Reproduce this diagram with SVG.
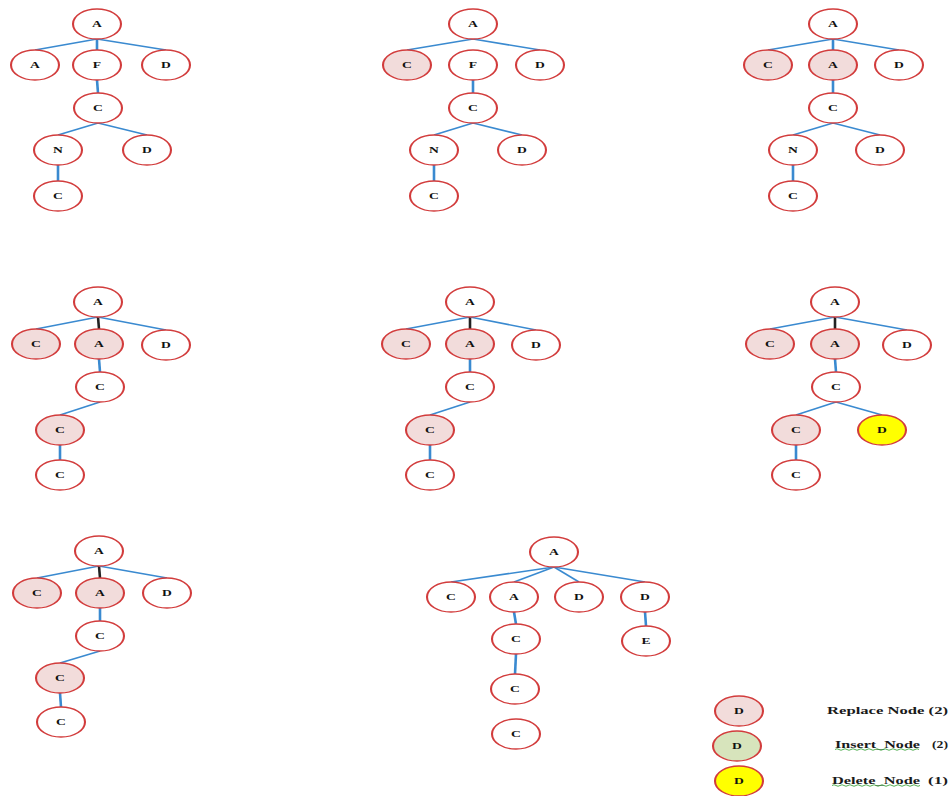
<svg xmlns="http://www.w3.org/2000/svg" width="950" height="796" viewBox="0 0 950 796">
<style>
.nd circle{fill:#fff;stroke:#d23c3c;stroke-width:1.3}
.r circle{fill:#f2dcdb}
.g circle{fill:#d7e4bc}
.y circle{fill:#ffff00}
.nd text{font-family:"Liberation Serif",serif;font-weight:bold;font-size:8.5px;text-anchor:middle;fill:#111}
.e line{stroke:#3a8ad0;stroke-width:1.6}
.e line.v{stroke-width:2.6}
.e line.k{stroke:#222;stroke-width:2.6}
.lg{font-family:"Liberation Serif",serif;font-weight:bold;font-size:10px;fill:#1a1a1a}
.sq{fill:none;stroke:#2a9a2a;stroke-width:0.8}
</style>
<rect width="950" height="796" fill="#fff"/>
<g id="connectors" class="e">
<!-- panel 1 -->
<line x1="97" y1="39" x2="35" y2="50"/>
<line class="v" x1="97" y1="39" x2="97" y2="50"/>
<line x1="97" y1="39" x2="166" y2="50"/>
<line class="v" x1="97" y1="80" x2="98" y2="93"/>
<line x1="98" y1="123" x2="58" y2="135"/>
<line x1="98" y1="123" x2="147" y2="135"/>
<line class="v" x1="58" y1="165" x2="58" y2="181"/>
<!-- panel 2 -->
<line x1="473" y1="39" x2="407" y2="50"/>
<line x1="473" y1="39" x2="540" y2="50"/>
<line class="v" x1="473" y1="80" x2="473" y2="93"/>
<line x1="473" y1="123" x2="434" y2="135"/>
<line x1="473" y1="123" x2="522" y2="135"/>
<line class="v" x1="434" y1="165" x2="434" y2="181"/>
<!-- panel 3 -->
<line x1="833" y1="39" x2="768" y2="50"/>
<line class="v" x1="833" y1="39" x2="833" y2="50"/>
<line x1="833" y1="39" x2="899" y2="50"/>
<line class="v" x1="833" y1="80" x2="833" y2="93"/>
<line x1="833" y1="123" x2="793" y2="135"/>
<line x1="833" y1="123" x2="880" y2="135"/>
<line class="v" x1="793" y1="165" x2="793" y2="181"/>
<!-- panel 4 -->
<line x1="98" y1="317" x2="36" y2="329"/>
<line class="k" x1="98" y1="317" x2="99" y2="329"/>
<line x1="98" y1="317" x2="166" y2="330"/>
<line class="v" x1="99" y1="359" x2="100" y2="372"/>
<line x1="100" y1="402" x2="60" y2="415"/>
<line class="v" x1="60" y1="445" x2="60" y2="460"/>
<!-- panel 5 -->
<line x1="470" y1="317" x2="406" y2="329"/>
<line class="k" x1="470" y1="317" x2="470" y2="329"/>
<line x1="470" y1="317" x2="536" y2="330"/>
<line class="v" x1="470" y1="359" x2="470" y2="372"/>
<line x1="470" y1="402" x2="430" y2="415"/>
<line class="v" x1="430" y1="445" x2="430" y2="460"/>
<!-- panel 6 -->
<line x1="835" y1="317" x2="770" y2="329"/>
<line class="k" x1="835" y1="317" x2="835" y2="329"/>
<line x1="835" y1="317" x2="907" y2="330"/>
<line class="v" x1="835" y1="359" x2="836" y2="372"/>
<line x1="836" y1="402" x2="796" y2="415"/>
<line x1="836" y1="402" x2="882" y2="415"/>
<line class="v" x1="796" y1="445" x2="796" y2="460"/>
<!-- panel 7 -->
<line x1="99" y1="566" x2="37" y2="578"/>
<line class="k" x1="99" y1="566" x2="100" y2="578"/>
<line x1="99" y1="566" x2="167" y2="578"/>
<line class="v" x1="100" y1="608" x2="100" y2="621"/>
<line x1="100" y1="651" x2="60" y2="663"/>
<line class="v" x1="60" y1="693" x2="61" y2="707"/>
<!-- panel 8 -->
<line x1="554" y1="567" x2="451" y2="582"/>
<line x1="554" y1="567" x2="514" y2="582"/>
<line x1="554" y1="567" x2="579" y2="582"/>
<line x1="554" y1="567" x2="645" y2="582"/>
<line class="v" x1="514" y1="612" x2="516" y2="624"/>
<line class="v" x1="516" y1="654" x2="515" y2="674"/>
<line class="v" x1="645" y1="612" x2="646" y2="626"/>
</g>

<!-- panel 1 -->
<g id="p1-a" class="nd" transform="translate(97,24) scale(1.6,1)"><circle r="15"/><text y="3">A</text></g>
<g id="p1-a2" class="nd" transform="translate(35,65) scale(1.6,1)"><circle r="15"/><text y="3">A</text></g>
<g id="p1-f" class="nd" transform="translate(97,65) scale(1.6,1)"><circle r="15"/><text y="3">F</text></g>
<g id="p1-d" class="nd" transform="translate(166,65) scale(1.6,1)"><circle r="15"/><text y="3">D</text></g>
<g id="p1-c" class="nd" transform="translate(98,108) scale(1.6,1)"><circle r="15"/><text y="3">C</text></g>
<g id="p1-n" class="nd" transform="translate(58,150) scale(1.6,1)"><circle r="15"/><text y="3">N</text></g>
<g id="p1-d2" class="nd" transform="translate(147,150) scale(1.6,1)"><circle r="15"/><text y="3">D</text></g>
<g id="p1-c2" class="nd" transform="translate(58,196) scale(1.6,1)"><circle r="15"/><text y="3">C</text></g>

<!-- panel 2 -->
<g id="p2-a" class="nd" transform="translate(473,24) scale(1.6,1)"><circle r="15"/><text y="3">A</text></g>
<g id="p2-c" class="nd r" transform="translate(407,65) scale(1.6,1)"><circle r="15"/><text y="3">C</text></g>
<g id="p2-f" class="nd" transform="translate(473,65) scale(1.6,1)"><circle r="15"/><text y="3">F</text></g>
<g id="p2-d" class="nd" transform="translate(540,65) scale(1.6,1)"><circle r="15"/><text y="3">D</text></g>
<g id="p2-c2" class="nd" transform="translate(473,108) scale(1.6,1)"><circle r="15"/><text y="3">C</text></g>
<g id="p2-n" class="nd" transform="translate(434,150) scale(1.6,1)"><circle r="15"/><text y="3">N</text></g>
<g id="p2-d2" class="nd" transform="translate(522,150) scale(1.6,1)"><circle r="15"/><text y="3">D</text></g>
<g id="p2-c3" class="nd" transform="translate(434,196) scale(1.6,1)"><circle r="15"/><text y="3">C</text></g>

<!-- panel 3 -->
<g id="p3-a" class="nd" transform="translate(833,24) scale(1.6,1)"><circle r="15"/><text y="3">A</text></g>
<g id="p3-c" class="nd r" transform="translate(768,65) scale(1.6,1)"><circle r="15"/><text y="3">C</text></g>
<g id="p3-a2" class="nd r" transform="translate(833,65) scale(1.6,1)"><circle r="15"/><text y="3">A</text></g>
<g id="p3-d" class="nd" transform="translate(899,65) scale(1.6,1)"><circle r="15"/><text y="3">D</text></g>
<g id="p3-c2" class="nd" transform="translate(833,108) scale(1.6,1)"><circle r="15"/><text y="3">C</text></g>
<g id="p3-n" class="nd" transform="translate(793,150) scale(1.6,1)"><circle r="15"/><text y="3">N</text></g>
<g id="p3-d2" class="nd" transform="translate(880,150) scale(1.6,1)"><circle r="15"/><text y="3">D</text></g>
<g id="p3-c3" class="nd" transform="translate(793,196) scale(1.6,1)"><circle r="15"/><text y="3">C</text></g>

<!-- panel 4 -->
<g id="p4-a" class="nd" transform="translate(98,302) scale(1.6,1)"><circle r="15"/><text y="3">A</text></g>
<g id="p4-c" class="nd r" transform="translate(36,344) scale(1.6,1)"><circle r="15"/><text y="3">C</text></g>
<g id="p4-a2" class="nd r" transform="translate(99,344) scale(1.6,1)"><circle r="15"/><text y="3">A</text></g>
<g id="p4-d" class="nd" transform="translate(166,345) scale(1.6,1)"><circle r="15"/><text y="3">D</text></g>
<g id="p4-c2" class="nd" transform="translate(100,387) scale(1.6,1)"><circle r="15"/><text y="3">C</text></g>
<g id="p4-c3" class="nd r" transform="translate(60,430) scale(1.6,1)"><circle r="15"/><text y="3">C</text></g>
<g id="p4-c4" class="nd" transform="translate(60,475) scale(1.6,1)"><circle r="15"/><text y="3">C</text></g>

<!-- panel 5 -->
<g id="p5-a" class="nd" transform="translate(470,302) scale(1.6,1)"><circle r="15"/><text y="3">A</text></g>
<g id="p5-c" class="nd r" transform="translate(406,344) scale(1.6,1)"><circle r="15"/><text y="3">C</text></g>
<g id="p5-a2" class="nd r" transform="translate(470,344) scale(1.6,1)"><circle r="15"/><text y="3">A</text></g>
<g id="p5-d" class="nd" transform="translate(536,345) scale(1.6,1)"><circle r="15"/><text y="3">D</text></g>
<g id="p5-c2" class="nd" transform="translate(470,387) scale(1.6,1)"><circle r="15"/><text y="3">C</text></g>
<g id="p5-c3" class="nd r" transform="translate(430,430) scale(1.6,1)"><circle r="15"/><text y="3">C</text></g>
<g id="p5-c4" class="nd" transform="translate(430,475) scale(1.6,1)"><circle r="15"/><text y="3">C</text></g>

<!-- panel 6 -->
<g id="p6-a" class="nd" transform="translate(835,302) scale(1.6,1)"><circle r="15"/><text y="3">A</text></g>
<g id="p6-c" class="nd r" transform="translate(770,344) scale(1.6,1)"><circle r="15"/><text y="3">C</text></g>
<g id="p6-a2" class="nd r" transform="translate(835,344) scale(1.6,1)"><circle r="15"/><text y="3">A</text></g>
<g id="p6-d" class="nd" transform="translate(907,345) scale(1.6,1)"><circle r="15"/><text y="3">D</text></g>
<g id="p6-c2" class="nd" transform="translate(836,387) scale(1.6,1)"><circle r="15"/><text y="3">C</text></g>
<g id="p6-c3" class="nd r" transform="translate(796,430) scale(1.6,1)"><circle r="15"/><text y="3">C</text></g>
<g id="p6-d2" class="nd y" transform="translate(882,430) scale(1.6,1)"><circle r="15"/><text y="3">D</text></g>
<g id="p6-c4" class="nd" transform="translate(796,475) scale(1.6,1)"><circle r="15"/><text y="3">C</text></g>

<!-- panel 7 -->
<g id="p7-a" class="nd" transform="translate(99,551) scale(1.6,1)"><circle r="15"/><text y="3">A</text></g>
<g id="p7-c" class="nd r" transform="translate(37,593) scale(1.6,1)"><circle r="15"/><text y="3">C</text></g>
<g id="p7-a2" class="nd r" transform="translate(100,593) scale(1.6,1)"><circle r="15"/><text y="3">A</text></g>
<g id="p7-d" class="nd" transform="translate(167,593) scale(1.6,1)"><circle r="15"/><text y="3">D</text></g>
<g id="p7-c2" class="nd" transform="translate(100,636) scale(1.6,1)"><circle r="15"/><text y="3">C</text></g>
<g id="p7-c3" class="nd r" transform="translate(60,678) scale(1.6,1)"><circle r="15"/><text y="3">C</text></g>
<g id="p7-c4" class="nd" transform="translate(61,722) scale(1.6,1)"><circle r="15"/><text y="3">C</text></g>

<!-- panel 8 -->
<g id="p8-a" class="nd" transform="translate(554,552) scale(1.6,1)"><circle r="15"/><text y="3">A</text></g>
<g id="p8-c" class="nd" transform="translate(451,597) scale(1.6,1)"><circle r="15"/><text y="3">C</text></g>
<g id="p8-a2" class="nd" transform="translate(514,597) scale(1.6,1)"><circle r="15"/><text y="3">A</text></g>
<g id="p8-d" class="nd" transform="translate(579,597) scale(1.6,1)"><circle r="15"/><text y="3">D</text></g>
<g id="p8-d2" class="nd" transform="translate(645,597) scale(1.6,1)"><circle r="15"/><text y="3">D</text></g>
<g id="p8-c2" class="nd" transform="translate(516,639) scale(1.6,1)"><circle r="15"/><text y="3">C</text></g>
<g id="p8-e" class="nd" transform="translate(646,641) scale(1.6,1)"><circle r="15"/><text y="3">E</text></g>
<g id="p8-c3" class="nd" transform="translate(515,689) scale(1.6,1)"><circle r="15"/><text y="3">C</text></g>
<g id="p8-c4" class="nd" transform="translate(516,734) scale(1.6,1)"><circle r="15"/><text y="3">C</text></g>

<!-- legend -->
<g id="legend-replace">
<g class="nd r" transform="translate(739,711) scale(1.6,1)"><circle r="15"/><text y="3">D</text></g>
<text class="lg" x="827" y="714" textLength="121" lengthAdjust="spacingAndGlyphs">Replace Node (2)</text>
</g>
<g id="legend-insert">
<g class="nd g" transform="translate(737,746) scale(1.6,1)"><circle r="15"/><text y="3">D</text></g>
<text class="lg"><tspan x="835" y="748" textLength="85" lengthAdjust="spacingAndGlyphs">Insert_Node</tspan><tspan x="932" y="748" textLength="16" lengthAdjust="spacingAndGlyphs">(2)</tspan></text>
<path class="sq" d="M835,749.5 q2,-1.5 4,0 t4,0 t4,0 t4,0 t4,0 t4,0 t4,0 t4,0 t4,0 t4,0 t4,0 t4,0 t4,0 t4,0 t4,0 t4,0 t4,0 t4,0 t4,0 t4,0 t4,0"/>
</g>
<g id="legend-delete">
<g class="nd y" transform="translate(739,781) scale(1.6,1)"><circle r="15"/><text y="3">D</text></g>
<text class="lg"><tspan x="832" y="784" textLength="88" lengthAdjust="spacingAndGlyphs">Delete_Node</tspan><tspan x="928" y="784" textLength="20" lengthAdjust="spacingAndGlyphs">(1)</tspan></text>
<path class="sq" d="M832,785.5 q2,-1.5 4,0 t4,0 t4,0 t4,0 t4,0 t4,0 t4,0 t4,0 t4,0 t4,0 t4,0 t4,0 t4,0 t4,0 t4,0 t4,0 t4,0 t4,0 t4,0 t4,0 t4,0 t4,0"/>
</g>
</svg>
